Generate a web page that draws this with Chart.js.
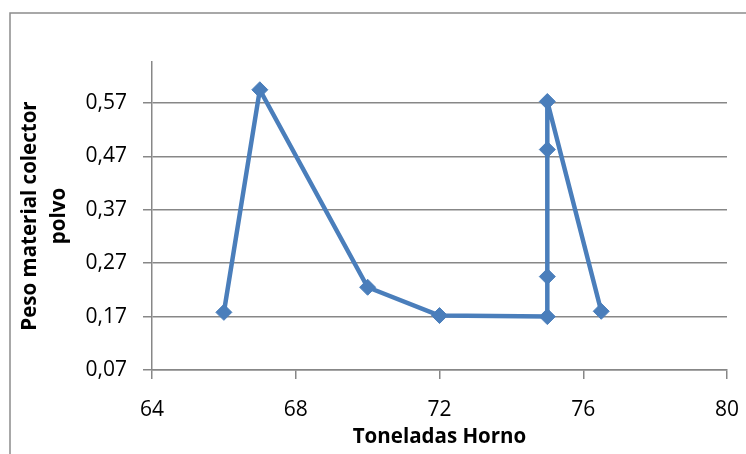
<!DOCTYPE html>
<html>
<head>
  <meta charset="UTF-8">
  <title>Peso material colector polvo</title>
  <script src="https://cdn.jsdelivr.net/npm/chart.js"></script>
  <style>
    html, body {
      margin: 0;
      padding: 0;
      background: #ffffff;
    }
    #wrap {
      width: 746px;
      height: 454px;
    }
  </style>
</head>
<body>
<div id="wrap">
  <canvas id="chart" width="746" height="454"></canvas>
</div>
<script>
  // datos
  const toneladas = [66, 67, 70, 72, 75, 75, 75, 75, 76.5];
  const peso = [0.178, 0.595, 0.225, 0.172, 0.170, 0.245, 0.483, 0.573, 0.180];
  const yTicks = [0.07, 0.17, 0.27, 0.37, 0.47, 0.57];
  const xTicks = [64, 68, 72, 76, 80];

  const points = toneladas.map((t, i) => ({ x: t, y: peso[i] }));

  // marco exterior del grafico (tipo Excel)
  const frame = {
    id: 'frame',
    beforeDraw(chart) {
      const ctx = chart.ctx;
      ctx.save();
      ctx.strokeStyle = '#8c8c8c';
      ctx.lineWidth = 1.5;
      ctx.strokeRect(10, 13, 800, 500);
      ctx.restore();
    }
  };

  const gris = '#878787';
  const fuente = 'Open Sans';

  new Chart(document.getElementById('chart'), {
    type: 'scatter',
    data: {
      datasets: [{
        data: points,
        showLine: true,
        borderColor: '#4A7EBB',
        backgroundColor: '#4A7EBB',
        borderWidth: 4.5,
        borderJoinStyle: 'round',
        borderCapStyle: 'round',
        pointStyle: 'rectRot',
        pointRadius: 8,
        pointBorderWidth: 1,
        tension: 0
      }]
    },
    options: {
      responsive: false,
      animation: false,
      layout: { padding: { left: 12, top: 62, right: 19, bottom: 0 } },
      plugins: {
        legend: { display: false },
        tooltip: { enabled: false }
      },
      scales: {
        x: {
          type: 'linear',
          min: 64,
          max: 80,
          afterBuildTicks: (scale) => { scale.ticks = xTicks.map(v => ({ value: v })); },
          afterFit: (scale) => {
            scale.height = 84;
            scale.paddingLeft = 0;
            scale.paddingRight = 0;
          },
          grid: { drawOnChartArea: false, drawTicks: true, tickLength: 9, color: gris, lineWidth: 1.5 },
          border: { display: true, color: gris, width: 1.5 },
          ticks: {
            padding: 18,
            color: '#000',
            font: { family: fuente, size: 21 }
          },
          title: {
            display: true,
            text: 'Toneladas Horno',
            color: '#000',
            padding: { top: 0, bottom: 5 },
            font: { family: fuente, size: 20.5, weight: 'bold' }
          }
        },
        y: {
          min: 0.07,
          max: 0.647,
          afterBuildTicks: (scale) => { scale.ticks = yTicks.map(v => ({ value: v })); },
          afterFit: (scale) => { scale.width = 140; },
          grid: { drawTicks: true, tickLength: 9, color: gris, lineWidth: 1.5 },
          border: { display: true, color: gris, width: 1.5 },
          ticks: {
            padding: 16,
            color: '#000',
            font: { family: fuente, size: 21 },
            callback: (v) => v.toFixed(2).replace('.', ',')
          },
          title: {
            display: true,
            text: ['Peso material colector', 'polvo'],
            color: '#000',
            padding: { top: 3, bottom: 0 },
            font: { family: fuente, size: 20.5, weight: 'bold', lineHeight: 1.45 }
          }
        }
      }
    },
    plugins: [frame]
  });
</script>
</body>
</html>
